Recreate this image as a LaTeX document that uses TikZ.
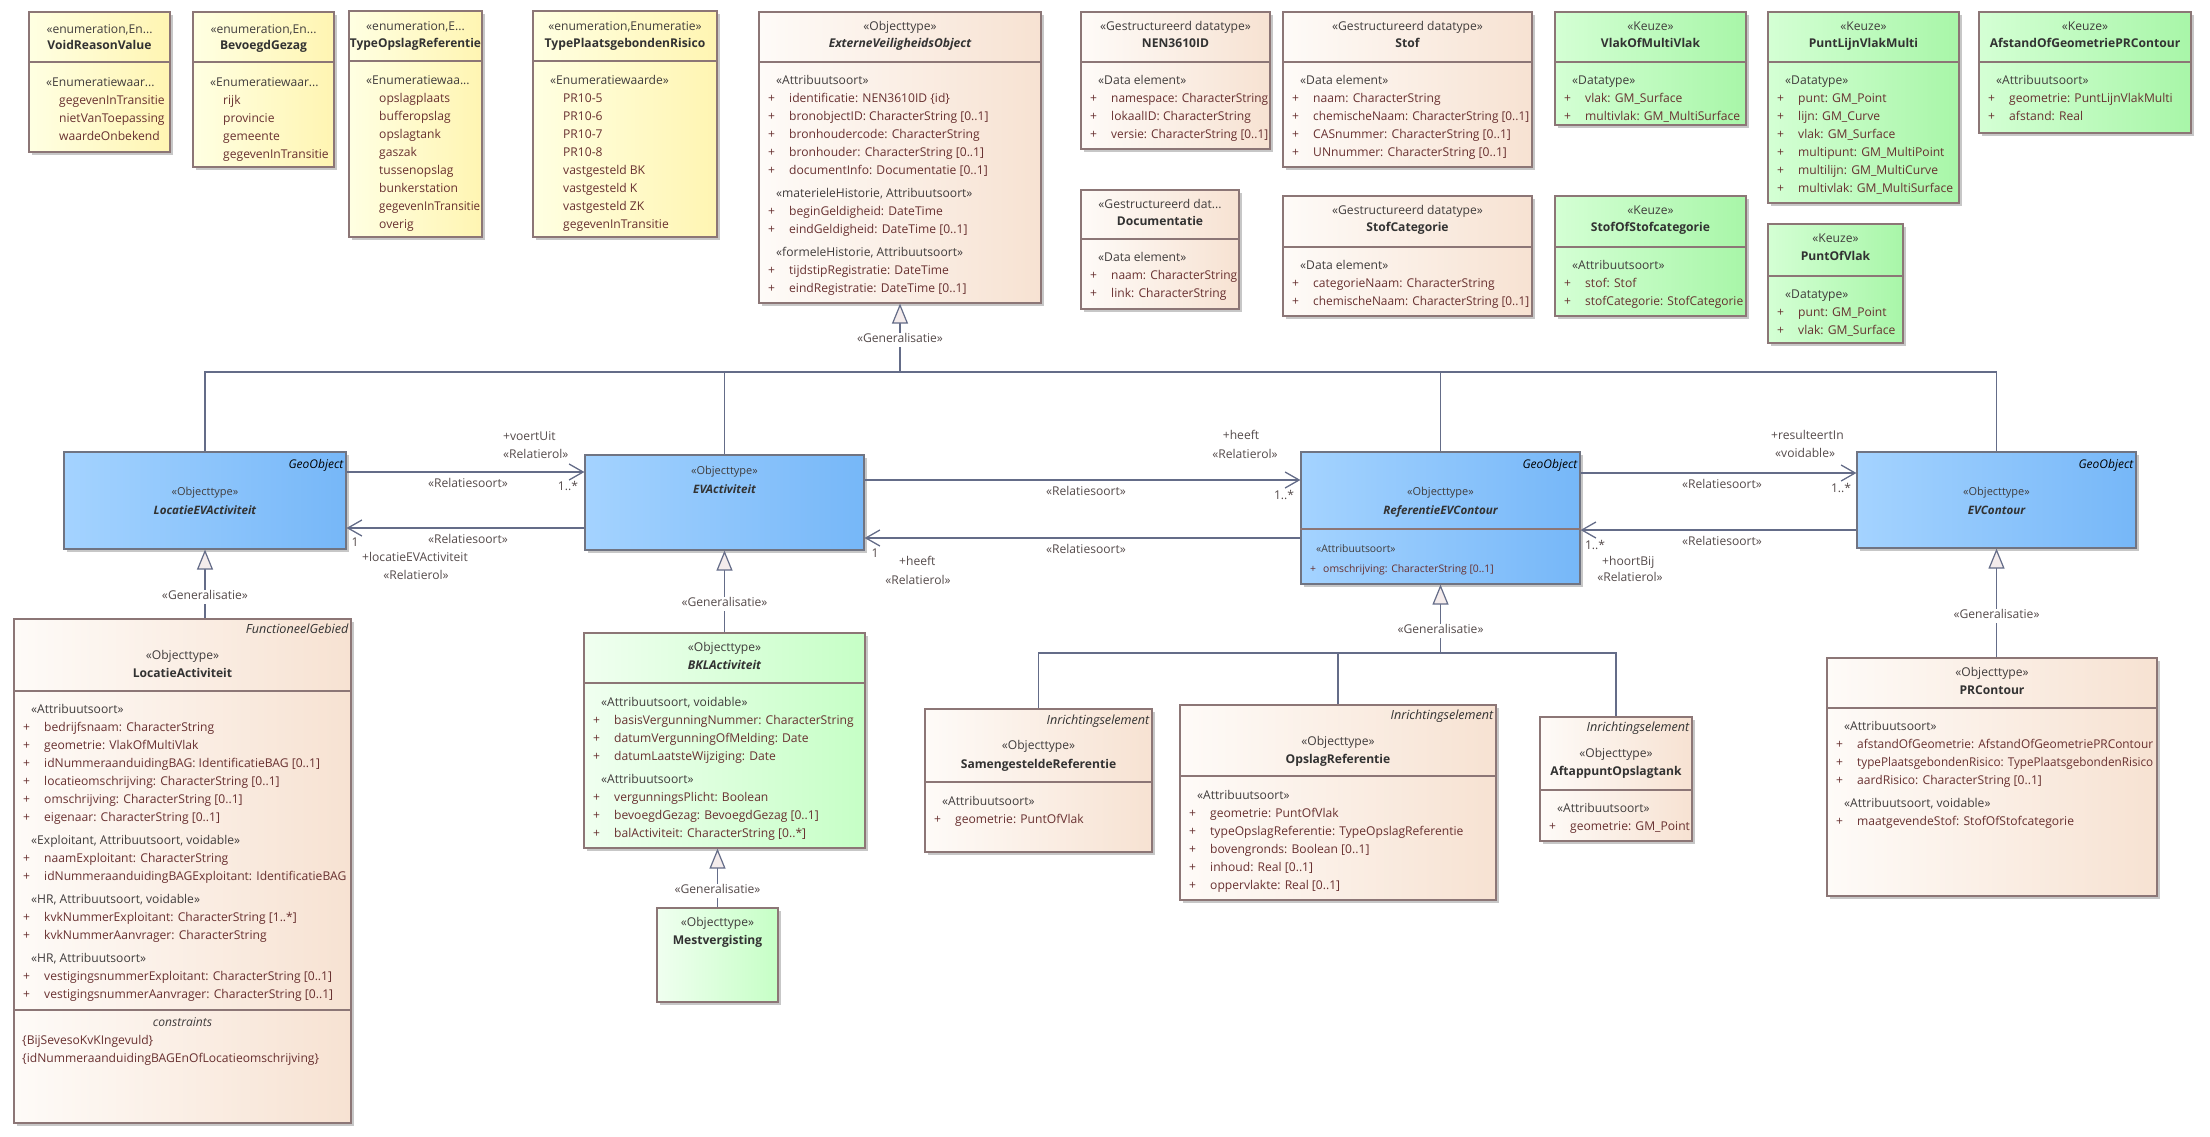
\documentclass[tikz,border=0pt]{standalone}
\usepackage{fontspec}
\usepackage{graphicx}
\setmainfont{Open Sans}
\usetikzlibrary{arrows.meta,fit,shadows}

\definecolor{edgecol}{RGB}{140,118,118}
\definecolor{blueedge}{RGB}{112,116,130}
\definecolor{linecol}{RGB}{100,108,136}
\definecolor{genfill}{RGB}{244,236,236}
\definecolor{yelL}{RGB}{255,255,226}
\definecolor{yelR}{RGB}{255,245,178}
\definecolor{begL}{RGB}{254,251,248}
\definecolor{begR}{RGB}{247,226,210}
\definecolor{grnL}{RGB}{212,255,212}
\definecolor{grnR}{RGB}{168,246,168}
\definecolor{lgrL}{RGB}{240,255,240}
\definecolor{lgrR}{RGB}{198,255,198}
\definecolor{bluL}{RGB}{164,211,255}
\definecolor{bluR}{RGB}{118,183,248}
\definecolor{attrcol}{RGB}{104,48,48}
\definecolor{stcol}{RGB}{64,60,60}
\definecolor{namecol}{RGB}{50,50,50}
\definecolor{labcol}{RGB}{84,74,74}

\newcommand\hdfont{\fontsize{12.1}{14}\selectfont}
\newcommand\geofont{\fontsize{11}{13}\selectfont}
\newcommand\attrfont{\fontsize{12.1}{18}\selectfont}
\newcommand\smallattrfont{\fontsize{10.4}{16}\selectfont}
\newcommand\sthead[1]{\multicolumn{2}{@{\hspace{8pt}}l@{}}{\color{stcol}#1}}
\newcommand\fitw[2]{\sbox0{#2}\ifdim\wd0>#1\relax\resizebox{#1}{\height}{#2}\else\usebox0\fi}
\newcommand\umlbox[6]{\node[#2, fit={(#3,#4) (#5,#6)}] (#1) {};}
\newcommand\sepline[2]{\draw[boxline] (#1.west |- 0,#2) -- (#1.east |- 0,#2);}
\newcommand\umlhead[7]{\node[#2] at (#1.north |- 0,#4) {#5}; \node[#3] at (#1.north |- 0,#6) {#7};}
\newcommand\attrs[3]{\node[attrlist] at (#1,#2) {\begin{tabular}{@{}p{21pt}@{}l@{}}#3\end{tabular}};}

\begin{document}
\begin{tikzpicture}[x=1pt, y=-1pt,
  boxline/.style={draw=edgecol, line width=1.2pt},
  umlbase/.style={boxline, inner sep=0pt, drop shadow={shadow xshift=3pt, shadow yshift=-3pt, fill=black!22, opacity=1}},
  enumbox/.style={umlbase, left color=yelL, right color=yelR},
  databox/.style={umlbase, left color=begL, right color=begR},
  keuzebox/.style={umlbase, left color=grnL, right color=grnR},
  bklbox/.style={umlbase, left color=lgrL, right color=lgrR},
  geobox/.style={umlbase, draw=blueedge, left color=bluL, right color=bluR},
  sthd/.style={inner sep=0pt, text height=8pt, text depth=2.5pt, text=stcol, font=\hdfont},
  nm/.style={sthd, text=namecol, font=\hdfont\bfseries},
  nmi/.style={nm, font=\hdfont\bfseries\itshape},
  gst/.style={sthd, font=\geofont},
  gnm/.style={nm, font=\fontsize{11.6}{13}\selectfont\bfseries\itshape},
  tagl/.style={sthd, anchor=east, xshift=-3pt, text=namecol, font=\fontsize{12.6}{14}\selectfont\itshape},
  geotag/.style={tagl, text=black, font=\fontsize{12}{14}\selectfont\itshape},
  attrlist/.style={anchor=north west, inner sep=0pt, text=attrcol, font=\attrfont},
  lab/.style={inner sep=0pt, text height=8pt, text depth=2.5pt, text=labcol, font=\hdfont},
  conn/.style={draw=linecol, line width=1.3pt},
  assoc/.style={conn, -{Straight Barb[length=14pt, width=16pt]}},
  gen/.style={conn, -{Triangle[length=20pt, width=16pt, fill=genfill, line width=1.2pt]}},
  genlab/.style={lab, fill=white, inner xsep=1pt, inner ysep=2pt}
]
\useasboundingbox (0,0) rectangle (2210,1137);

\umlbox{voidreason}{enumbox}{29}{12}{170}{152}
\umlbox{bevoegd}{enumbox}{193}{12}{334}{167}
\umlbox{typeopslag}{enumbox}{349}{11}{482}{237}
\umlbox{typepr}{enumbox}{533}{11}{717}{237}
\umlbox{evo}{databox}{759}{12}{1041}{303}
\umlbox{nen}{databox}{1081}{12}{1270}{149}
\umlbox{stof}{databox}{1283}{12}{1532}{167}
\umlbox{vlakmulti}{keuzebox}{1555}{12}{1746}{125}
\umlbox{documentatie}{databox}{1081}{190}{1239}{309}
\umlbox{stofcat}{databox}{1283}{196}{1532}{316}
\umlbox{stofofcat}{keuzebox}{1555}{196}{1746}{316}
\umlbox{plvm}{keuzebox}{1768}{12}{1959}{203}
\umlbox{afstand}{keuzebox}{1979}{12}{2191}{133}
\umlbox{puntofvlak}{keuzebox}{1768}{224}{1903}{343}
\umlbox{locev}{geobox}{64}{452}{346}{549}
\umlbox{evact}{geobox}{585}{455}{864}{550}
\umlbox{refev}{geobox}{1301}{452}{1580}{584}
\umlbox{evcontour}{geobox}{1857}{452}{2136}{548}
\umlbox{locact}{databox}{14}{619}{351}{1123}
\umlbox{bkl}{bklbox}{584}{633}{865}{848}
\umlbox{mest}{bklbox}{657}{908}{778}{1002}
\umlbox{samen}{databox}{925}{709}{1152}{852}
\umlbox{opslag}{databox}{1180}{705}{1496}{900}
\umlbox{aftap}{databox}{1540}{717}{1692}{841}
\umlbox{prc}{databox}{1827}{658}{2157}{896}

\foreach \b/\y in {voidreason/62, bevoegd/62, typeopslag/61, typepr/61, evo/62, nen/62, stof/62,
  vlakmulti/62, documentatie/239, stofcat/247, stofofcat/247, plvm/62, afstand/62, puntofvlak/276,
  refev/529, locact/691, locact/1010, bkl/683, samen/782, opslag/776, aftap/790, prc/708}
  \sepline{\b}{\y};

\umlhead{voidreason}{sthd}{nm}{31}{«enumeration,En...}{47}{VoidReasonValue}
\umlhead{bevoegd}{sthd}{nm}{31}{«enumeration,En...}{47}{BevoegdGezag}
\umlhead{typeopslag}{sthd}{nm}{28}{«enumeration,E...}{45}{\fitw{131pt}{TypeOpslagReferentie}}
\umlhead{typepr}{sthd}{nm}{28}{«enumeration,Enumeratie»}{45}{TypePlaatsgebondenRisico}
\umlhead{evo}{sthd}{nmi}{28}{«Objecttype»}{45}{ExterneVeiligheidsObject}
\umlhead{nen}{sthd}{nm}{28}{«Gestructureerd datatype»}{45}{NEN3610ID}
\umlhead{stof}{sthd}{nm}{28}{«Gestructureerd datatype»}{45}{Stof}
\umlhead{vlakmulti}{sthd}{nm}{28}{«Keuze»}{45}{VlakOfMultiVlak}
\umlhead{documentatie}{sthd}{nm}{206}{«Gestructureerd dat...}{223}{Documentatie}
\umlhead{stofcat}{sthd}{nm}{212}{«Gestructureerd datatype»}{229}{StofCategorie}
\umlhead{stofofcat}{sthd}{nm}{212}{«Keuze»}{229}{StofOfStofcategorie}
\umlhead{plvm}{sthd}{nm}{28}{«Keuze»}{45}{PuntLijnVlakMulti}
\umlhead{afstand}{sthd}{nm}{28}{«Keuze»}{45}{AfstandOfGeometriePRContour}
\umlhead{puntofvlak}{sthd}{nm}{240}{«Keuze»}{258}{PuntOfVlak}
\umlhead{locev}{gst}{gnm}{493}{«Objecttype»}{512}{LocatieEVActiviteit}
\umlhead{evact}{gst}{gnm}{472}{«Objecttype»}{491}{EVActiviteit}
\umlhead{refev}{gst}{gnm}{493}{«Objecttype»}{512}{ReferentieEVContour}
\umlhead{evcontour}{gst}{gnm}{493}{«Objecttype»}{512}{EVContour}
\umlhead{locact}{sthd}{nm}{657}{«Objecttype»}{675}{LocatieActiviteit}
\umlhead{bkl}{sthd}{nmi}{649}{«Objecttype»}{667}{BKLActiviteit}
\umlhead{mest}{sthd}{nm}{924}{«Objecttype»}{942}{Mestvergisting}
\umlhead{samen}{sthd}{nm}{747}{«Objecttype»}{766}{SamengesteldeReferentie}
\umlhead{opslag}{sthd}{nm}{743}{«Objecttype»}{761}{OpslagReferentie}
\umlhead{aftap}{sthd}{nm}{755}{«Objecttype»}{773}{AftappuntOpslagtank}
\umlhead{prc}{sthd}{nm}{674}{«Objecttype»}{692}{PRContour}

\node[geotag] at (locev.east |- 0,466) {GeoObject};
\node[geotag] at (refev.east |- 0,466) {GeoObject};
\node[geotag] at (evcontour.east |- 0,466) {GeoObject};
\node[tagl] at (locact.east |- 0,631) {FunctioneelGebied};
\node[tagl] at (samen.east |- 0,722) {Inrichtingselement};
\node[tagl] at (opslag.east |- 0,717) {Inrichtingselement};
\node[tagl] at (aftap.east |- 0,729) {Inrichtingselement};

\attrs{38}{74}{\sthead{«Enumeratiewaar...}\\
 & \fitw{108pt}{gegevenInTransitie}\\ & nietVanToepassing\\ & waardeOnbekend}
\attrs{202}{74}{\sthead{«Enumeratiewaar...}\\
 & rijk\\ & provincie\\ & gemeente\\ & \fitw{108pt}{gegevenInTransitie}}
\attrs{358}{72}{\sthead{«Enumeratiewaa...}\\
 & opslagplaats\\ & bufferopslag\\ & opslagtank\\ & gaszak\\ & tussenopslag\\
 & bunkerstation\\ & \fitw{101pt}{gegevenInTransitie}\\ & overig}
\attrs{542}{72}{\sthead{«Enumeratiewaarde»}\\
 & PR10-5\\ & PR10-6\\ & PR10-7\\ & PR10-8\\ & vastgesteld BK\\ & vastgesteld K\\
 & vastgesteld ZK\\ & gegevenInTransitie}
\attrs{768}{72}{\sthead{«Attribuutsoort»}\\
 + & identificatie: NEN3610ID \{id\}\\
 + & bronobjectID: CharacterString [0..1]\\
 + & bronhoudercode: CharacterString\\
 + & bronhouder: CharacterString [0..1]\\
 + & documentInfo: Documentatie [0..1]\\[5pt]
 \sthead{«materieleHistorie, Attribuutsoort»}\\
 + & beginGeldigheid: DateTime\\
 + & eindGeldigheid: DateTime [0..1]\\[5pt]
 \sthead{«formeleHistorie, Attribuutsoort»}\\
 + & tijdstipRegistratie: DateTime\\
 + & eindRegistratie: DateTime [0..1]}
\attrs{1090}{72}{\sthead{«Data element»}\\
 + & \fitw{157pt}{namespace: CharacterString}\\
 + & \fitw{157pt}{lokaalID: CharacterString}\\
 + & \fitw{157pt}{versie: CharacterString [0..1]}}
\attrs{1292}{72}{\sthead{«Data element»}\\
 + & naam: CharacterString\\
 + & \fitw{216pt}{chemischeNaam: CharacterString [0..1]}\\
 + & CASnummer: CharacterString [0..1]\\
 + & UNnummer: CharacterString [0..1]}
\attrs{1564}{72}{\sthead{«Datatype»}\\
 + & vlak: GM\_Surface\\
 + & \fitw{158pt}{multivlak: GM\_MultiSurface}}
\attrs{1090}{249}{\sthead{«Data element»}\\
 + & \fitw{126pt}{naam: CharacterString}\\
 + & \fitw{126pt}{link: CharacterString}}
\attrs{1292}{257}{\sthead{«Data element»}\\
 + & categorieNaam: CharacterString\\
 + & \fitw{216pt}{chemischeNaam: CharacterString [0..1]}}
\attrs{1564}{257}{\sthead{«Attribuutsoort»}\\
 + & stof: Stof\\
 + & \fitw{158pt}{stofCategorie: StofCategorie}}
\attrs{1777}{72}{\sthead{«Datatype»}\\
 + & punt: GM\_Point\\
 + & lijn: GM\_Curve\\
 + & vlak: GM\_Surface\\
 + & multipunt: GM\_MultiPoint\\
 + & multilijn: GM\_MultiCurve\\
 + & \fitw{157pt}{multivlak: GM\_MultiSurface}}
\attrs{1988}{72}{\sthead{«Attribuutsoort»}\\
 + & geometrie: PuntLijnVlakMulti\\
 + & afstand: Real}
\attrs{1777}{286}{\sthead{«Datatype»}\\
 + & punt: GM\_Point\\
 + & vlak: GM\_Surface}
\attrs{23}{701}{\sthead{«Attribuutsoort»}\\
 + & bedrijfsnaam: CharacterString\\
 + & geometrie: VlakOfMultiVlak\\
 + & idNummeraanduidingBAG: IdentificatieBAG [0..1]\\
 + & locatieomschrijving: CharacterString [0..1]\\
 + & omschrijving: CharacterString [0..1]\\
 + & eigenaar: CharacterString [0..1]\\[5pt]
 \sthead{«Exploitant, Attribuutsoort, voidable»}\\
 + & naamExploitant: CharacterString\\
 + & \fitw{304pt}{idNummeraanduidingBAGExploitant: IdentificatieBAG}\\[5pt]
 \sthead{«HR, Attribuutsoort, voidable»}\\
 + & kvkNummerExploitant: CharacterString [1..*]\\
 + & kvkNummerAanvrager: CharacterString\\[5pt]
 \sthead{«HR, Attribuutsoort»}\\
 + & vestigingsnummerExploitant: CharacterString [0..1]\\
 + & vestigingsnummerAanvrager: CharacterString [0..1]}
\node[sthd, font=\hdfont\itshape] at (locact.north |- 0,1024) {constraints};
\node[attrlist] at (22,1032) {\begin{tabular}{@{}l@{}}\{BijSevesoKvKIngevuld\}\\
 \{idNummeraanduidingBAGEnOfLocatieomschrijving\}\end{tabular}};
\attrs{593}{694}{\sthead{«Attribuutsoort, voidable»}\\
 + & \fitw{248pt}{basisVergunningNummer: CharacterString}\\
 + & datumVergunningOfMelding: Date\\
 + & datumLaatsteWijziging: Date\\[5pt]
 \sthead{«Attribuutsoort»}\\
 + & vergunningsPlicht: Boolean\\
 + & bevoegdGezag: BevoegdGezag [0..1]\\
 + & balActiviteit: CharacterString [0..*]}
\attrs{934}{793}{\sthead{«Attribuutsoort»}\\
 + & geometrie: PuntOfVlak}
\attrs{1189}{787}{\sthead{«Attribuutsoort»}\\
 + & geometrie: PuntOfVlak\\
 + & \fitw{283pt}{typeOpslagReferentie: TypeOpslagReferentie}\\
 + & bovengronds: Boolean [0..1]\\
 + & inhoud: Real [0..1]\\
 + & oppervlakte: Real [0..1]}
\attrs{1549}{800}{\sthead{«Attribuutsoort»}\\
 + & \fitw{121pt}{geometrie: GM\_Point}}
\attrs{1836}{718}{\sthead{«Attribuutsoort»}\\
 + & \fitw{296pt}{afstandOfGeometrie: AfstandOfGeometriePRContour}\\
 + & \fitw{296pt}{typePlaatsgebondenRisico: TypePlaatsgebondenRisico}\\
 + & aardRisico: CharacterString [0..1]\\[5pt]
 \sthead{«Attribuutsoort, voidable»}\\
 + & maatgevendeStof: StofOfStofcategorie}
\node[attrlist, font=\smallattrfont] at (1310,541) {\begin{tabular}{@{}p{13pt}@{}l@{}}
 \multicolumn{2}{@{\hspace{6pt}}l@{}}{\color{stcol}«Attribuutsoort»}\\[4pt]
 + & omschrijving: CharacterString [0..1]\end{tabular}};

\coordinate (evohub) at (evo.south |- 0,372);
\draw[conn] (locev.north) |- (evohub) -| (evcontour.north);
\draw[conn] (evact.north) -- (evact.north |- evohub);
\draw[conn] (refev.north) -- (refev.north |- evohub);
\draw[gen] (evohub) -- (evo.south);
\node[genlab] at (evo.south |- 0,340) {«Generalisatie»};

\draw[gen] (locact.north -| locev.south) -- (locev.south);
\node[genlab] at (locev.south |- 0,597) {«Generalisatie»};
\draw[gen] (bkl.north) -- (bkl.north |- evact.south);
\node[genlab] at (bkl.north |- 0,604) {«Generalisatie»};
\draw[gen] (mest.north) -- (mest.north |- bkl.south);
\node[genlab] at (mest.north |- 0,891) {«Generalisatie»};
\coordinate (refhub) at (refev.south |- 0,653);
\draw[conn] (samen.north) |- (refhub) -| (aftap.north);
\draw[conn] (opslag.north) -- (opslag.north |- refhub);
\draw[gen] (refhub) -- (refev.south);
\node[genlab] at (refev.south |- 0,631) {«Generalisatie»};
\draw[gen] (prc.north -| evcontour.south) -- (evcontour.south);
\node[genlab] at (evcontour.south |- 0,616) {«Generalisatie»};

\draw[assoc] (locev.east |- 0,472) -- (evact.west |- 0,472);
\draw[assoc] (evact.west |- 0,528) -- (locev.east |- 0,528);
\draw[assoc] (evact.east |- 0,480) -- (refev.west |- 0,480);
\draw[assoc] (refev.west |- 0,538) -- (evact.east |- 0,538);
\draw[assoc] (refev.east |- 0,473) -- (evcontour.west |- 0,473);
\draw[assoc] (evcontour.west |- 0,530) -- (refev.east |- 0,530);

\node[lab, anchor=west] at (503,438) {+voertUit};
\node[lab, anchor=west] at (503,456) {«Relatierol»};
\node[lab] at (568,488) {1..*};
\node[lab] at (468,485) {«Relatiesoort»};
\node[lab] at (355,544) {1};
\node[lab] at (468,541) {«Relatiesoort»};
\node[lab, anchor=west] at (362,559) {+locatieEVActiviteit};
\node[lab] at (416,577) {«Relatierol»};
\node[lab] at (1241,437) {+heeft};
\node[lab] at (1245,456) {«Relatierol»};
\node[lab] at (1284,497) {1..*};
\node[lab] at (1086,493) {«Relatiesoort»};
\node[lab] at (875,555) {1};
\node[lab] at (1086,551) {«Relatiesoort»};
\node[lab, anchor=west] at (899,563) {+heeft};
\node[lab] at (918,582) {«Relatierol»};
\node[lab, anchor=west] at (1771,437) {+resulteertIn};
\node[lab, anchor=west] at (1775,455) {«voidable»};
\node[lab] at (1841,490) {1..*};
\node[lab] at (1722,486) {«Relatiesoort»};
\node[lab] at (1595,547) {1..*};
\node[lab] at (1722,543) {«Relatiesoort»};
\node[lab, anchor=west] at (1602,563) {+hoortBij};
\node[lab] at (1630,579) {«Relatierol»};
\end{tikzpicture}
\end{document}
